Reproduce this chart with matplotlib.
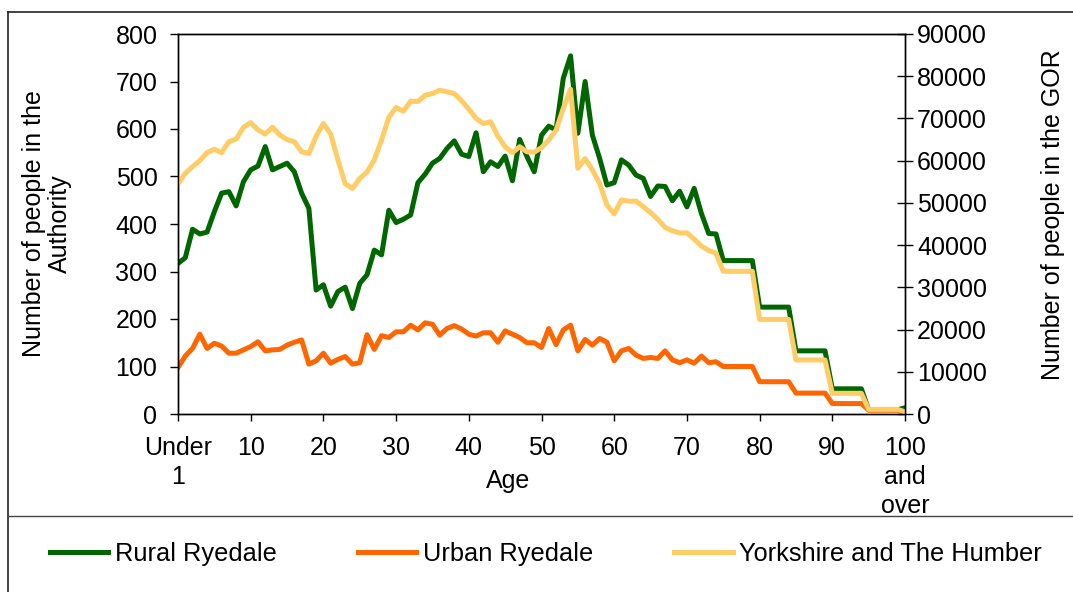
import matplotlib
matplotlib.use("Agg")
import matplotlib.pyplot as plt
from matplotlib.lines import Line2D

plt.rcParams['font.family'] = ['Liberation Sans', 'DejaVu Sans']

ages = list(range(101))
rural = [317, 329, 389, 379, 383, 426, 465, 468, 438, 489,
         514, 522, 563, 514, 521, 528, 510, 465, 433, 261,
         272, 227, 258, 267, 222, 275, 293, 345, 335, 429,
         403, 410, 419, 487, 505, 528, 538, 559, 575, 547,
         542, 592, 510, 531, 521, 543, 491, 578, 542, 510,
         587, 606, 598, 707, 754, 591, 700, 587, 538, 482,
         487, 535, 524, 503, 496, 458, 480, 479, 449, 469,
         436, 475, 422, 380, 379, 323, 323, 323, 323, 323,
         225, 225, 225, 225, 225, 133, 133, 133, 133, 133,
         53, 53, 53, 53, 53, 9, 9, 9, 9, 9, 13]
urban = [98, 122, 138, 168, 138, 149, 143, 128, 128, 135,
         142, 152, 133, 135, 136, 145, 151, 156, 105, 112,
         128, 107, 115, 121, 105, 108, 167, 136, 165, 161,
         173, 173, 187, 177, 192, 189, 166, 180, 186, 179,
         168, 164, 171, 171, 151, 175, 168, 161, 150, 150,
         140, 180, 146, 177, 187, 133, 157, 145, 159, 151,
         112, 133, 138, 124, 117, 119, 117, 133, 114, 108,
         114, 107, 122, 108, 110, 100, 100, 100, 100, 100,
         68, 68, 68, 68, 68, 44, 44, 44, 44, 44,
         22, 22, 22, 22, 22, 8, 8, 8, 8, 8, 4]
gor = [54500, 57000, 58600, 60000, 61900, 62700, 61900, 64500, 65100, 67900,
       69000, 67300, 66300, 67900, 66100, 65000, 64500, 62100, 61700, 65800,
       68800, 66300, 60200, 54500, 53400, 55800, 57300, 60200, 64900, 70300,
       72600, 71700, 74100, 74000, 75500, 75900, 76700, 76300, 75900, 74200,
       72200, 70000, 68800, 69200, 65800, 63300, 61900, 63300, 62100, 62000,
       63100, 64900, 67200, 72400, 76900, 58200, 60500, 57800, 54600, 49500,
       47400, 50700, 50400, 50400, 49100, 47700, 46100, 44200, 43400, 42900,
       42900, 41400, 39800, 38700, 38100, 33800, 33800, 33800, 33800, 33800,
       22400, 22400, 22400, 22400, 22400, 12800, 12800, 12800, 12800, 12800,
       4900, 4900, 4900, 4900, 4900, 1100, 1100, 1100, 1100, 1100, 500]

xticks = [0, 10, 20, 30, 40, 50, 60, 70, 80, 90, 100]
xticklabels = ["Under\n1", "10", "20", "30", "40", "50", "60", "70", "80", "90", "100\nand\nover"]
left_ticks = [0, 100, 200, 300, 400, 500, 600, 700, 800]
right_ticks = [0, 10000, 20000, 30000, 40000, 50000, 60000, 70000, 80000, 90000]
series_names = ["Rural Ryedale", "Urban Ryedale", "Yorkshire and The Humber"]
colors = ["#006600", "#FF6600", "#FFCC66"]

W, H = 1073, 592
fig = plt.figure(figsize=(W / 100, H / 100), dpi=100)
FS = 18
LW = 3.6

ax = fig.add_axes([178 / W, 1 - 414 / H, (905 - 178) / W, (414 - 34) / H])
ax2 = ax.twinx()

l1, = ax.plot(ages, rural, color=colors[0], lw=LW)
l2, = ax.plot(ages, urban, color=colors[1], lw=LW)
l3, = ax2.plot(ages, gor, color=colors[2], lw=LW)

ax.set_xlim(0, 100)
ax.set_ylim(0, 800)
ax2.set_ylim(0, 90000)

ax.set_xticks(xticks)
ax.set_xticklabels(xticklabels, fontsize=FS, linespacing=1.25)
ax.set_yticks(left_ticks)
ax.set_yticklabels([str(v) for v in left_ticks], fontsize=FS)
ax2.set_yticks(right_ticks)
ax2.set_yticklabels([str(v) for v in right_ticks], fontsize=FS)

ax.tick_params(axis='x', direction='out', length=5, width=1, pad=11)
ax.tick_params(axis='y', direction='out', length=5.8, width=1, pad=9)
ax2.tick_params(axis='y', direction='inout', length=11.5, width=1, pad=3)

for a in (ax, ax2):
    for s in a.spines.values():
        s.set_linewidth(1.0)
        s.set_color('black')

ax.set_xlabel("Age", fontsize=FS)
ax.xaxis.set_label_coords((508 - 178) / (905 - 178), 1 - (481 - 34) / (414 - 34))
ax.xaxis.label.set_va('center')

fig.text(47 / W, 1 - 224 / H, "Number of people in the\nAuthority", rotation=90,
         ha='center', va='center', fontsize=FS, linespacing=1.15)
fig.text(1053 / W, 1 - 215 / H, "Number of people in the GOR", rotation=90,
         ha='center', va='center', fontsize=FS)

fig.legend([l1, l2, l3], series_names, loc='center',
           bbox_to_anchor=(546 / W, 1 - 554 / H), ncol=3, frameon=False,
           handlelength=2.3, handletextpad=0.25, columnspacing=3.2, fontsize=18.3)

# outer frame and separator
fig.add_artist(Line2D([8 / W, 1.0], [1 - 12 / H, 1 - 12 / H], transform=fig.transFigure,
                      color='#222222', lw=1.2))
fig.add_artist(Line2D([8 / W, 8 / W], [1 - 12 / H, 0.0], transform=fig.transFigure,
                      color='#222222', lw=1.2))
fig.add_artist(Line2D([8 / W, 1.0], [1 - 516 / H, 1 - 516 / H], transform=fig.transFigure,
                      color='#444444', lw=1.0))

fig.savefig("out.png", dpi=100)
